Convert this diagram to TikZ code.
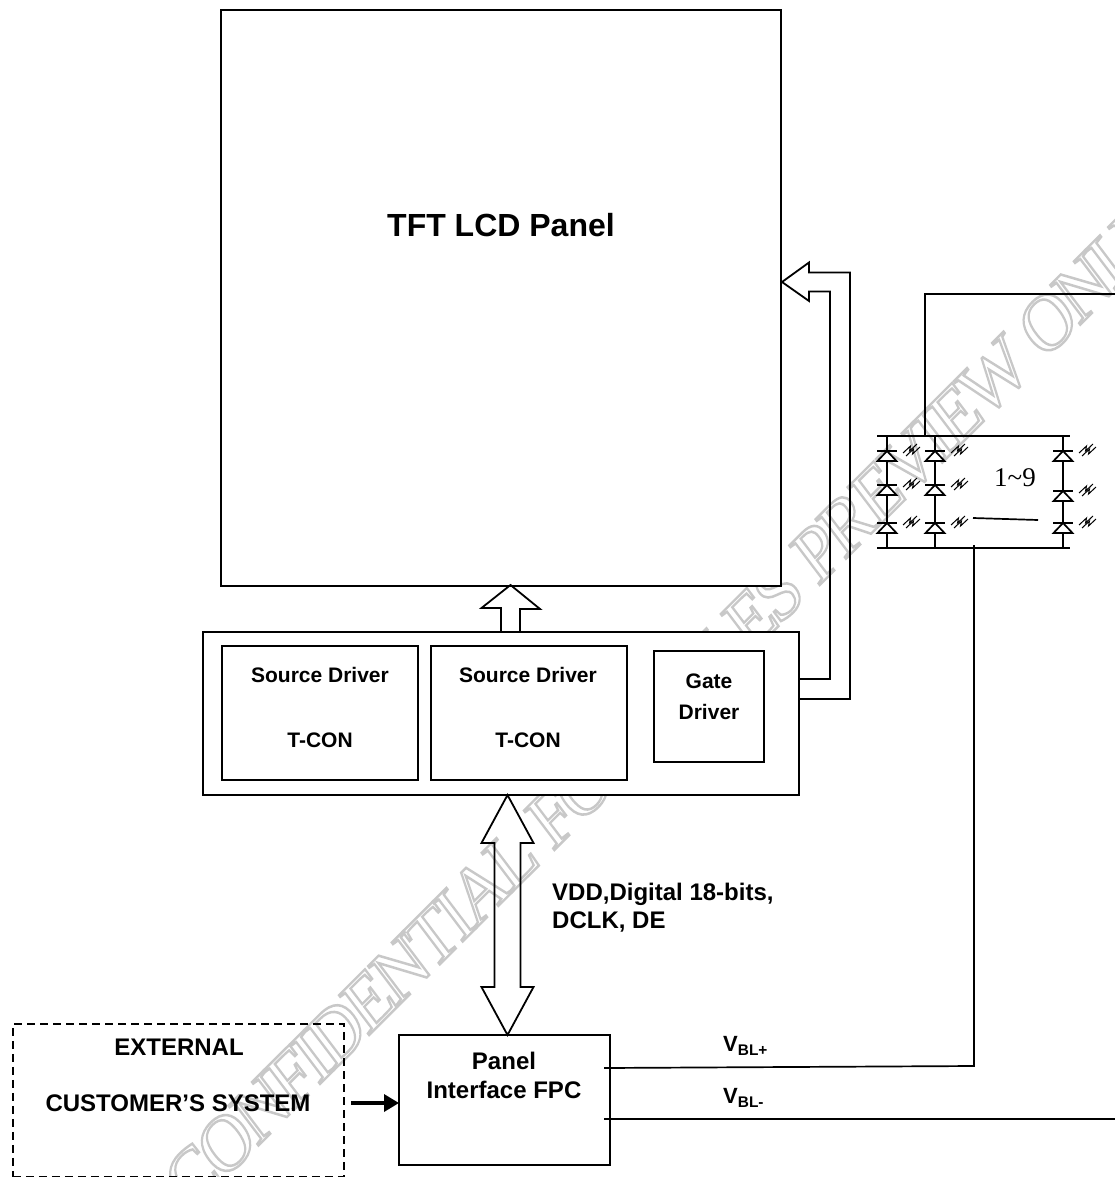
\documentclass[tikz,border=0pt]{standalone}
\usepackage{fontspec}
\setmainfont{Liberation Sans}
\newfontfamily\markfont[LetterSpace=-6]{Liberation Serif}
\usetikzlibrary{positioning,arrows.meta}
\definecolor{WireBlack}{HTML}{000000}
\definecolor{MarkGray}{HTML}{C8C8C8}
\newcommand{\outlinetext}[1]{\special{pdf:code 1 Tr 2.2 w}#1\special{pdf:code 0 Tr 1 w}}

\begin{document}
\begin{tikzpicture}[>=Stealth,x=1pt,y=-1pt,node distance=13pt]
    \tikzstyle{mainbox}=[draw=WireBlack,fill=white,line width=1.8pt,inner sep=0pt,outer sep=0pt]
    \tikzstyle{lbl}=[inner sep=0pt,font=\bfseries\fontsize{21}{26}\selectfont,align=center]
    \tikzstyle{lblbig}=[inner sep=0pt,font=\bfseries\fontsize{24}{29}\selectfont,align=center]
    \tikzstyle{wire}=[draw=WireBlack,line width=1.7pt]
    \tikzstyle{blockline}=[draw=WireBlack,line width=1.8pt,line join=miter]
    \useasboundingbox (0,0) rectangle (1115,1177);
    % watermark sits under the white boxes
    \node[cm={.755,.754,-.656,.868,(0,0)},inner sep=0pt,text=MarkGray,font=\markfont\fontsize{70}{70}\selectfont] (wmark) at (668,702)
      {\outlinetext{CONFIDENTIAL FOR SALES PREVIEW ONLY}};
    % boxes
    \node[mainbox,anchor=north west,minimum width=560pt,minimum height=576pt] (panel) at (221,10) {};
    \node[lbl,font=\bfseries\fontsize{32}{36}\selectfont] (paneltxt) at (501,225) {TFT LCD Panel};
    \node[mainbox,anchor=north west,minimum width=596pt,minimum height=163pt] (board) at (203,632) {};
    \node[mainbox,anchor=north west,minimum width=196pt,minimum height=134pt] (sd1) at (222,646) {};
    \node[mainbox,right=of sd1,minimum width=196pt,minimum height=134pt] (sd2) {};
    \node[mainbox,anchor=north west,minimum width=110pt,minimum height=111pt] (gate) at (654,651) {};
    \node[lbl] (sd1a) at (320,675) {Source Driver};
    \node[lbl] (sd1b) at (320,740) {T-CON};
    \node[lbl] (sd2a) at (528,675) {Source Driver};
    \node[lbl] (sd2b) at (528,740) {T-CON};
    \node[lbl,font=\bfseries\fontsize{21}{31}\selectfont] (gatetxt) at (709,697) {Gate\\Driver};
    \node[mainbox,anchor=north west,minimum width=211pt,minimum height=130pt] (fpc) at (399,1035) {};
    \node[lblbig] (fpctxt) at (504,1075) {Panel\\Interface FPC};
    \node[draw=WireBlack,dashed,dash pattern=on 8pt off 5pt,line width=1.8pt,anchor=north west,
      minimum width=331pt,minimum height=153pt,inner sep=0pt] (ext) at (12,1023) {};
    \node[lblbig] (exta) at (179,1047) {EXTERNAL};
    \node[lblbig] (extb) at (178,1103) {CUSTOMER’S SYSTEM};
    \node[lbl,anchor=west,align=left,font=\bfseries\fontsize{24}{28}\selectfont] (vddtxt) at (552,908) {VDD,Digital 18-bits,\\DCLK, DE};
    \node[lbl,anchor=west,font=\bfseries\fontsize{22}{26}\selectfont] (vplus) at (723,1046) {V\textsubscript{BL+}};
    \node[lbl,anchor=west,font=\bfseries\fontsize{22}{26}\selectfont] (vminus) at (723,1098) {V\textsubscript{BL-}};
    \node[inner sep=0pt,font=\fontspec{Liberation Serif}\fontsize{27}{29}\selectfont] (ledcount) at (1015,478) {1\raisebox{0pt}{\textasciitilde}9};
    % block arrows
    \coordinate (uptip) at (510.5,585);
    \draw[blockline] (board.north -| uptip) ++(-9.5,0) -- ++(0,-24) -- ++(-19.5,0) -- (uptip)
      -- ++(29.5,24) -- ++(-20,0) -- ++(0,23);
    \coordinate (bustop) at (507.5,795);
    \coordinate (busbot) at (507.5,1035);
    \draw[blockline] (bustop) -- ++(26,48) -- ++(-13,0) -- ++(0,144) -- ++(13,0) -- (busbot)
      -- ++(-26,-48) -- ++(13,0) -- ++(0,-144) -- ++(-13,0) -- cycle;
    \coordinate (gatetip) at (782,282);
    \draw[blockline] (799,679) -- (830,679) -- (830,291.5) -- (809,291.5) -- (809,301) -- (gatetip)
      -- (809,262.5) -- (809,272.5) -- (850,272.5) -- (850,699) -- (799,699);
    % connectors
    \draw[->,line width=3.4pt,>={Triangle[length=15pt,width=17pt]}] (351,1103) -- (fpc.west |- 0,1103);
    \coordinate (plusbend) at (974,1066);
    \coordinate (railbot) at (974,545);
    \coordinate (railtop) at (925,436);
    \coordinate (topbend) at (925,294);
    \draw[wire] (604,1068) -- (plusbend) -- (railbot);
    \draw[wire] (604,1119) -- (1115,1119);
    \draw[wire] (railtop) -- (topbend) -- (1115,294);
    % led strings
    \draw[wire] (877,436) -- (1070,436);
    \draw[wire] (877,548) -- (1070,548);
    \draw[wire] (973,518) -- (1038,520);
    \foreach \xpos/\ya/\yb/\yc in {887/451/485/523,935/451/485/523,1063/451/491/523}{
      \draw[wire] (\xpos,436) -- (\xpos,548);
      \foreach \ypos in {\ya,\yb,\yc}{
        \draw[wire,fill=white] (\xpos,\ypos) -- ++(9.5,10) -- ++(-19,0) -- cycle;
        \draw[wire] (\xpos-10,\ypos) -- (\xpos+10,\ypos);
        \draw[line width=1pt] (\xpos+16,\ypos+2) -- ++(7.5,-7) -- ++(-1,5) -- ++(7.5,-7);
        \draw[line width=1pt] (\xpos+19,\ypos+5) -- ++(7.5,-7) -- ++(-1,5) -- ++(7.5,-7);
      }
    }
  \end{tikzpicture}
\end{document}
